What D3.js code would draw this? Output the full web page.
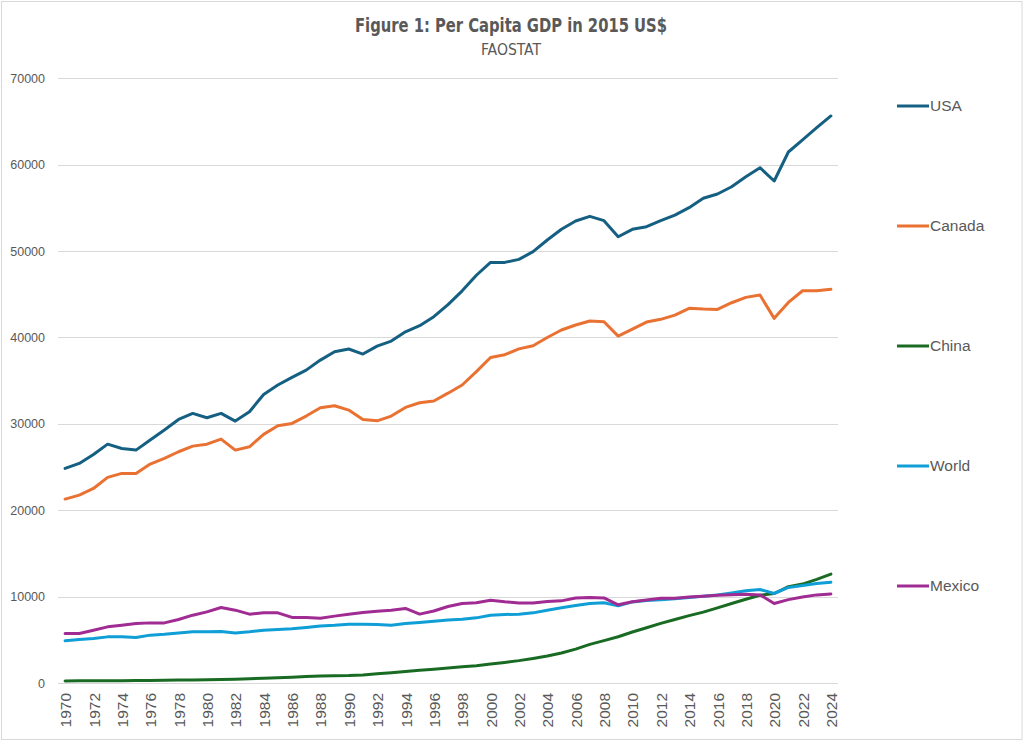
<!DOCTYPE html>
<html>
<head>
  <meta charset="utf-8">
  <title>Per Capita GDP</title>
  <style>
body { margin: 0; background: #fff; }
.lbl { font-family: "Liberation Sans", Arial, sans-serif; font-size: 12.5px; fill: #595959; }
.xlbl { font-family: "Liberation Sans", Arial, sans-serif; font-size: 15.5px; fill: #595959; }
.grid line { stroke: #d9d9d9; stroke-width: 1; }
.domain { display: none; }
</style>
<script src="https://d3js.org/d3.v7.min.js"></script>
</head>
<body>
<div id="chart"></div>
<script>
var years = d3.range(1970, 2025);
var usa = [24840,25420,26460,27650,27150,26960,28120,29280,30510,31210,
  30700,31210,30320,31400,33400,34490,35380,36220,37380,38350,
  38660,38080,39000,39580,40660,41360,42400,43800,45400,47200,
  48690,48690,49040,49930,51280,52520,53480,54020,53520,51660,
  52520,52820,53520,54170,55020,56110,56610,57450,58610,59650,
  58110,61470,62860,64280,65640];
var canada = [21290,21750,22520,23800,24260,24260,25340,26000,26770,27420,
  27650,28230,26960,27340,28780,29770,30050,30900,31860,32090,
  31590,30510,30350,30900,31900,32440,32650,33550,34500,36050,
  37680,38000,38680,39040,39990,40860,41440,41900,41820,40160,
  40970,41780,42100,42590,43370,43290,43250,44020,44640,44910,
  42210,44060,45410,45410,45570];
var china = [240,250,250,270,270,290,280,310,340,360,
  390,410,440,490,560,620,670,740,810,840,
  860,940,1060,1200,1340,1470,1600,1740,1870,2000,
  2200,2380,2590,2840,3120,3480,3920,4470,4900,5350,
  5900,6400,6900,7350,7800,8200,8700,9200,9700,10150,
  10360,11150,11450,12000,12600];
var world = [4880,5040,5150,5340,5340,5270,5540,5650,5800,5920,
  5920,5960,5800,5920,6110,6200,6270,6430,6610,6690,
  6810,6810,6770,6690,6890,7010,7150,7300,7390,7540,
  7850,7930,7970,8120,8430,8700,8970,9210,9280,8930,
  9390,9540,9640,9750,9900,10050,10200,10420,10670,10830,
  10360,11060,11290,11520,11670];
var mexico = [5730,5730,6110,6500,6690,6890,6960,6960,7350,7850,
  8230,8740,8430,7970,8120,8120,7590,7590,7500,7740,
  7970,8160,8310,8430,8630,7970,8330,8850,9200,9290,
  9590,9400,9250,9250,9440,9510,9850,9900,9850,9050,
  9400,9620,9800,9800,9950,10050,10150,10220,10260,10200,
  9210,9650,9950,10200,10300];
var names = ["USA", "Canada", "China", "World", "Mexico"];
var colors = ["#156082", "#E97132", "#196B24", "#0F9ED5", "#A02B93"];
var yTicks = [0,10000,20000,30000,40000,50000,60000,70000];
var xTicks = years.filter(function(y) { return y % 2 == 0; });

var series = [usa, canada, china, world, mexico];
var w = 1024, h = 743;
var svg = d3.select("#chart").append("svg")
  .attr("width", w)
  .attr("height", h);

svg.append("rect")
  .attr("x", 1.5).attr("y", 1.5)
  .attr("width", 1020.5).attr("height", 738)
  .attr("fill", "#fff").attr("stroke", "#d9d9d9");

var x = d3.scalePoint().domain(years).range([58, 838]).padding(0.5);
var y = d3.scaleLinear().domain([0, 70000]).range([683, 78.3]);

// gridlines
svg.append("g").attr("class", "grid")
  .selectAll("line").data(yTicks).enter()
  .append("line")
    .attr("x1", 58).attr("x2", 838)
    .attr("y1", function(d) { return Math.round(y(d)) + 0.5; })
    .attr("y2", function(d) { return Math.round(y(d)) + 0.5; });

var yAxis = svg.append("g")
  .attr("transform", "translate(58,0)")
  .call(d3.axisLeft(y).tickValues(yTicks).tickSize(0).tickPadding(13).tickFormat(d3.format("d")));
yAxis.selectAll("text").attr("class", "lbl").attr("font-family", null).attr("font-size", null);

var xAxis = svg.append("g")
  .attr("transform", "translate(0,683)")
  .call(d3.axisBottom(x).tickValues(xTicks).tickSize(0));
xAxis.attr("font-family", null).attr("font-size", null);
xAxis.selectAll("text")
  .attr("class", "xlbl")
  .attr("transform", "rotate(-90)")
  .attr("text-anchor", "end")
  .attr("x", -10)
  .attr("y", 0)
  .attr("dy", "0.36em");
svg.selectAll(".tick line").remove();

var line = d3.line()
  .x(function(d, i) { return x(years[i]); })
  .y(function(d) { return y(d); });

svg.selectAll("path.serie").data(series).enter()
  .append("path")
    .attr("class", "serie")
    .attr("d", line)
    .attr("fill", "none")
    .attr("stroke", function(d, i) { return colors[i]; })
    .attr("stroke-width", 3)
    .attr("stroke-linejoin", "round")
    .attr("stroke-linecap", "round");

// legend
var leg = svg.selectAll("g.leg").data(names).enter()
  .append("g")
    .attr("class", "leg")
    .attr("transform", function(d, i) { return "translate(897," + (106 + i * 120) + ")"; });
leg.append("line")
  .attr("x1", 0).attr("x2", 32)
  .attr("stroke", function(d, i) { return colors[i]; })
  .attr("stroke-width", 3);
leg.append("text")
  .attr("x", 33).attr("dy", "0.35em")
  .attr("font-family", "'Liberation Sans', Arial, sans-serif")
  .attr("font-size", 15.5)
  .attr("fill", "#595959")
  .text(function(d) { return d; });

// titles
svg.append("text")
  .attr("x", 511).attr("y", 32)
  .attr("text-anchor", "middle")
  .attr("font-family", "'Liberation Sans Narrow', 'DejaVu Sans Condensed', sans-serif")
  .attr("font-weight", "bold")
  .attr("font-size", 19)
  .attr("fill", "#595959")
  .attr("textLength", 312).attr("lengthAdjust", "spacingAndGlyphs")
  .text("Figure 1: Per Capita GDP in 2015 US$");
svg.append("text")
  .attr("x", 511).attr("y", 55)
  .attr("text-anchor", "middle")
  .attr("font-family", "'Liberation Sans Narrow', 'DejaVu Sans Condensed', sans-serif")
  .attr("font-size", 15)
  .attr("fill", "#595959")
  .attr("textLength", 60).attr("lengthAdjust", "spacingAndGlyphs")
  .text("FAOSTAT");
</script>
</body>
</html>
